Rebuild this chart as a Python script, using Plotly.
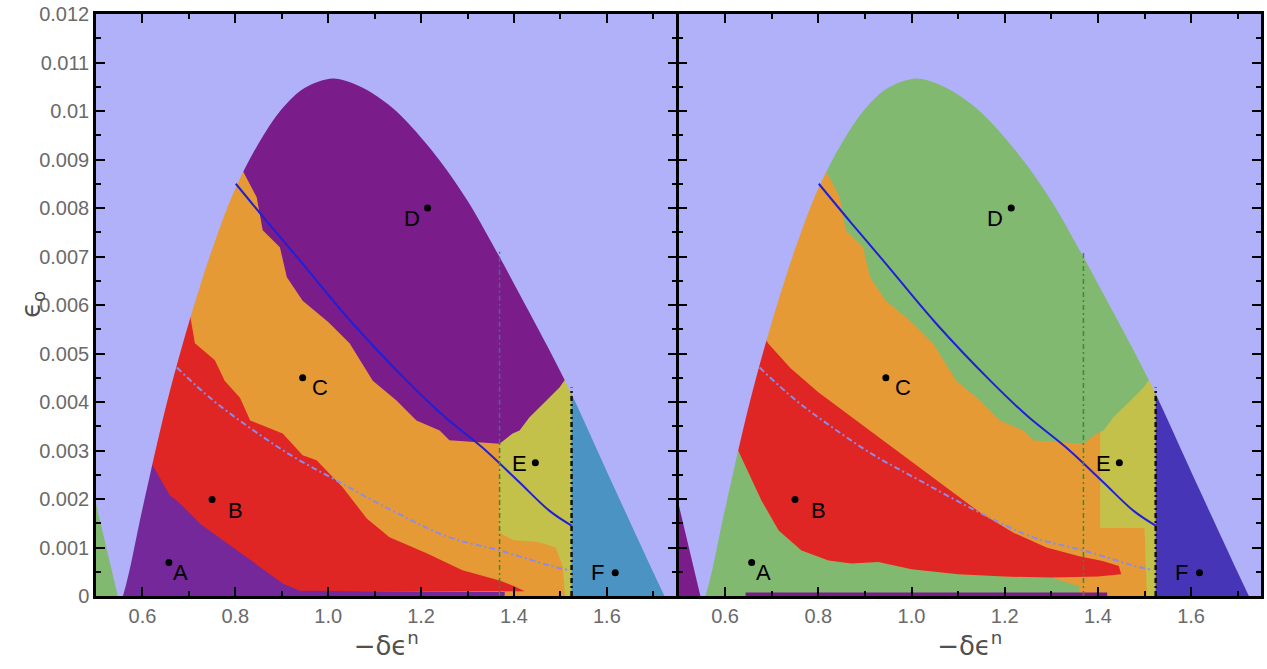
import plotly.graph_objects as go

# ---------------- data ----------------
X_RANGE = [0.5, 1.75]
Y_RANGE = [0.0, 0.012]
X_TICKS = [0.6, 0.8, 1.0, 1.2, 1.4, 1.6]
X_TICK_TEXT = ["0.6", "0.8", "1.0", "1.2", "1.4", "1.6"]
Y_TICKS = [0, 0.001, 0.002, 0.003, 0.004, 0.005, 0.006, 0.007, 0.008, 0.009, 0.010, 0.011, 0.012]
Y_TICK_TEXT = ["0", "0.001", "0.002", "0.003", "0.004", "0.005", "0.006", "0.007",
               "0.008", "0.009", "0.01", "0.011", "0.012"]

# outer boundary of the coloured region
ENV_X = [0.558, 0.600, 0.653, 0.702, 0.752, 0.800, 0.850, 0.900, 0.950, 1.010, 1.050, 1.096,
         1.140, 1.175, 1.240, 1.300, 1.354, 1.433, 1.513, 1.616, 1.724]
ENV_Y = [0.0, 0.0018, 0.0040, 0.0057, 0.0072, 0.0084, 0.00933, 0.01004, 0.01048, 0.01067,
         0.01058, 0.01036, 0.01005, 0.00972, 0.00898, 0.00815, 0.00725, 0.00585, 0.00438,
         0.00223, 0.0]

# small triangle at the far left
TRI_X = [0.5, 0.547, 0.5]
TRI_Y = [0.0019, 0.0, 0.0]

# upper region (D) lower boundary
DC_X = [0.800, 0.816, 0.846, 0.859, 0.896, 0.911, 0.945, 1.000, 1.046, 1.096, 1.147, 1.190,
        1.240, 1.261, 1.369, 1.397, 1.412, 1.433, 1.470, 1.498, 1.520]
DC_Y = [0.0091, 0.00877, 0.00822, 0.00754, 0.00719, 0.00657, 0.00609, 0.00565, 0.00521,
        0.00444, 0.00403, 0.00362, 0.00341, 0.00321, 0.00314, 0.00335, 0.00341, 0.00368,
        0.00403, 0.00430, 0.0046]

# left panel: B (red) upper boundary
CB_L_X = [0.681, 0.702, 0.713, 0.756, 0.777, 0.810, 0.832, 0.902, 0.945, 0.975, 1.031, 1.083,
          1.132, 1.212, 1.289, 1.369, 1.401, 1.423]
CB_L_Y = [0.0061, 0.00582, 0.00521, 0.00486, 0.00444, 0.00409, 0.00362, 0.00335, 0.00290,
          0.00280, 0.00224, 0.00160, 0.00121, 0.00088, 0.00053, 0.00032, 0.00020, 0.00011]

# left panel: A (purple) upper boundary
BA_L_X = [0.595, 0.612, 0.659, 0.674, 0.724, 0.795, 0.832, 0.902, 0.939, 1.380]
BA_L_Y = [0.00321, 0.00286, 0.00207, 0.00197, 0.00149, 0.00100, 0.00073, 0.00026, 0.00011, 0.00008]

# right panel: B (red) upper boundary
CB_R_X = [0.660, 0.693, 0.740, 0.800, 0.870, 0.940, 1.010, 1.080, 1.150, 1.220, 1.290, 1.360,
          1.410, 1.445, 1.450]
CB_R_Y = [0.0057, 0.0052, 0.0047, 0.0042, 0.0037, 0.0032, 0.0027, 0.0022, 0.0017, 0.0013,
          0.0010, 0.00082, 0.00072, 0.00062, 0.00045]

# right panel: A (green) upper boundary
BA_R_X = [0.600, 0.628, 0.678, 0.715, 0.764, 0.822, 0.871, 0.929, 1.000, 1.100, 1.200, 1.300,
          1.400, 1.450]
BA_R_Y = [0.0032, 0.0030, 0.00197, 0.00135, 0.00094, 0.00073, 0.00067, 0.0007, 0.00055,
          0.00045, 0.0004, 0.00038, 0.0004, 0.00045]

# E region lower boundary (left panel) and (right panel)
E_L_X = [1.369, 1.400, 1.450, 1.490, 1.505, 1.510]
E_L_Y = [0.0013, 0.00115, 0.00112, 0.0010, 0.0006, 0.0]
E_R_X = [1.405, 1.405, 1.500, 1.505]
E_R_Y = [0.006, 0.0014, 0.0014, 0.0]

X_DASH = 1.369       # green dash-dot vertical
X_DASH_TOP = 0.0071
X_DASHDOT = 1.524    # black dash-dot vertical
X_DASHDOT_TOP = 0.0043

# solid blue curve
BLUE_X = [0.801, 0.870, 0.939, 1.050, 1.169, 1.250, 1.332, 1.410, 1.476, 1.524]
BLUE_Y = [0.0085, 0.00770, 0.00692, 0.00565, 0.00444, 0.00370, 0.00306, 0.00236, 0.00176, 0.00145]

# dash-dot lavender curve
LAV_X = [0.674, 0.750, 0.831, 0.920, 1.018, 1.140, 1.261, 1.369, 1.476, 1.519]
LAV_Y = [0.00471, 0.00405, 0.00347, 0.00290, 0.00238, 0.00175, 0.00121, 0.00094, 0.00063, 0.00053]

PT_NAMES = ["A", "B", "C", "D", "E", "F"]
PT_X = [0.657, 0.750, 0.945, 1.214, 1.446, 1.618]
PT_Y = [0.00069, 0.00199, 0.0045, 0.0080, 0.00275, 0.00048]

# ---------------- styles ----------------
LAV = "#b1b1f9"
PURPLE = "#7a1c8a"
PURPLE_A = "#74289a"
ORANGE = "#e59a36"
RED = "#e02525"
YELLOW = "#c3c14a"
TEAL = "#4a93c2"
GREEN = "#82b971"
DBLUE = "#4636b7"
BLUE = "#2020d8"
LAVLINE = "#8c8ce8"
LBL_SHIFT = {"A": (12, -10), "B": (23, -11), "C": (17, -10), "D": (-16, -10), "E": (-16, -1), "F": (-18, 0)}

fig = go.Figure()


def poly(xs, ys, color, xa, ya, shape="linear"):
    fig.add_trace(go.Scatter(x=xs, y=ys, fill="toself", fillcolor=color, mode="lines",
                             line=dict(width=0, color=color, shape=shape), hoverinfo="skip",
                             showlegend=False, xaxis=xa, yaxis=ya))


def line(xs, ys, color, width, dash, xa, ya, shape="linear"):
    fig.add_trace(go.Scatter(x=xs, y=ys, mode="lines",
                             line=dict(color=color, width=width, dash=dash, shape=shape),
                             hoverinfo="skip", showlegend=False, xaxis=xa, yaxis=ya))


lo, hi = X_RANGE[0] - 0.1, X_RANGE[1] + 0.1
mask_x = [lo, 0.50] + ENV_X + [1.80, hi, hi, lo]
mask_y = [-0.003, -0.0015] + ENV_Y + [-0.0015, -0.003, 0.013, 0.013]
base_x = [lo, hi, hi, lo]
base_y = [-0.001, -0.001, 0.013, 0.013]
d_x = DC_X + [hi, hi, 0.7]
d_y = DC_Y + [DC_Y[-1], 0.013, 0.013]
f_x = [X_DASHDOT, hi, hi, X_DASHDOT]
f_y = [-0.001, -0.001, 0.007, 0.007]

for panel in (1, 2):
    xa = "x" if panel == 1 else "x2"
    ya = "y" if panel == 1 else "y2"
    poly(base_x, base_y, ORANGE, xa, ya)
    if panel == 1:
        poly([X_DASH] + E_L_X + [X_DASHDOT, X_DASHDOT], [0.006] + E_L_Y + [-0.001, 0.006], YELLOW, xa, ya)
        poly(d_x, d_y, PURPLE, xa, ya)
        poly(CB_L_X + [CB_L_X[-1], 0.55, 0.55], CB_L_Y + [0.0001, 0.0001, CB_L_Y[0]], RED, xa, ya)
        poly(BA_L_X + [BA_L_X[-1], 0.55, 0.55], BA_L_Y + [-0.001, -0.001, BA_L_Y[0]], PURPLE_A, xa, ya)
        poly(f_x, f_y, TEAL, xa, ya)
        poly(mask_x, mask_y, LAV, xa, ya, "spline")
        poly(TRI_X, TRI_Y, GREEN, xa, ya)
    else:
        poly(E_R_X + [X_DASHDOT, X_DASHDOT], E_R_Y + [-0.001, 0.006], YELLOW, xa, ya)
        poly(d_x, d_y, GREEN, xa, ya)
        gx = BA_R_X[:12] + [1.36, 1.36, 0.55, 0.55]
        gy = BA_R_Y[:12] + [0.0002, -0.001, -0.001, BA_R_Y[0]]
        poly(gx, gy, GREEN, xa, ya)
        poly(CB_R_X + BA_R_X[::-1], CB_R_Y + BA_R_Y[::-1], RED, xa, ya)
        poly([0.644, 1.42, 1.42, 0.644], [-0.001, -0.001, 0.00007, 0.00007], PURPLE, xa, ya)
        poly(f_x, f_y, DBLUE, xa, ya)
        poly(mask_x, mask_y, LAV, xa, ya, "spline")
        poly(TRI_X, TRI_Y, PURPLE, xa, ya)

    # curves
    line(LAV_X, LAV_Y, LAVLINE, 2, "6px,3px,2px,3px", xa, ya, "spline")
    line(BLUE_X, BLUE_Y, BLUE, 2, "solid", xa, ya, "spline")
    if panel == 1:
        line([X_DASH, X_DASH], [DC_Y[14], X_DASH_TOP], "#56609a", 1.5, "5px,3px,2px,3px", xa, ya)
        line([X_DASH, X_DASH], [0, DC_Y[14]], "#3f8a2c", 1.5, "5px,3px,2px,3px", xa, ya)
    else:
        line([X_DASH, X_DASH], [0, X_DASH_TOP], "#3f8a2c", 1.5, "5px,3px,2px,3px", xa, ya)
    line([X_DASHDOT, X_DASHDOT], [0, X_DASHDOT_TOP], "#111111", 2.5, "5px,3px,2px,3px", xa, ya)

    # points
    fig.add_trace(go.Scatter(x=PT_X, y=PT_Y, mode="markers", marker=dict(color="black", size=7),
                             hoverinfo="skip", showlegend=False, xaxis=xa, yaxis=ya))
    for n, px, py in zip(PT_NAMES, PT_X, PT_Y):
        dx, dy = LBL_SHIFT[n]
        fig.add_annotation(x=px, y=py, xref=xa, yref=ya, text=n, showarrow=False,
                           xshift=dx, yshift=dy,
                           font=dict(family="Liberation Sans, Arial", size=22, color="black"))

TICKFONT = dict(family="Liberation Sans, Arial", size=20, color="#6a6a6a")
TITLEFONT = dict(family="DejaVu Sans, Liberation Sans", size=26, color="#505050")

common_x = dict(range=X_RANGE, tickvals=X_TICKS, ticktext=X_TICK_TEXT, ticks="inside", ticklen=9,
                tickwidth=2, tickcolor="black", showline=True, linewidth=2.5, linecolor="black",
                mirror="ticks", showgrid=False, zeroline=False, tickfont=TICKFONT,
                minor=dict(dtick=0.1, tick0=0.5, ticks="inside", ticklen=5, tickwidth=1.5,
                           tickcolor="black", showgrid=False),
                title=dict(text="−δϵ<sup>n</sup>", font=TITLEFONT, standoff=4))
common_y = dict(range=Y_RANGE, tickvals=Y_TICKS, ticktext=Y_TICK_TEXT, ticks="inside", ticklen=9,
                tickwidth=2, tickcolor="black", showline=True, linewidth=2.5, linecolor="black",
                mirror="ticks", showgrid=False, zeroline=False, tickfont=TICKFONT,
                minor=dict(dtick=0.0005, tick0=0, ticks="inside", ticklen=5, tickwidth=1.5,
                           tickcolor="black", showgrid=False))

fig.add_annotation(text="ϵ<sub>o</sub>", xref="paper", yref="paper", x=0, y=0.5,
                   xanchor="center", yanchor="middle", xshift=-64, textangle=-90,
                   showarrow=False, font=TITLEFONT)

fig.update_layout(
    width=1267, height=669,
    margin=dict(l=96, r=3, t=13, b=73),
    paper_bgcolor="white", plot_bgcolor=LAV,
    xaxis=dict(domain=[0, 0.4983], anchor="y", **common_x),
    xaxis2=dict(domain=[0.5, 1.0], anchor="y2", **common_x),
    yaxis=dict(domain=[0, 1], anchor="x", **common_y),
    yaxis2=dict(domain=[0, 1], anchor="x2", showticklabels=False, **common_y),
)

fig.write_html("out.html")
